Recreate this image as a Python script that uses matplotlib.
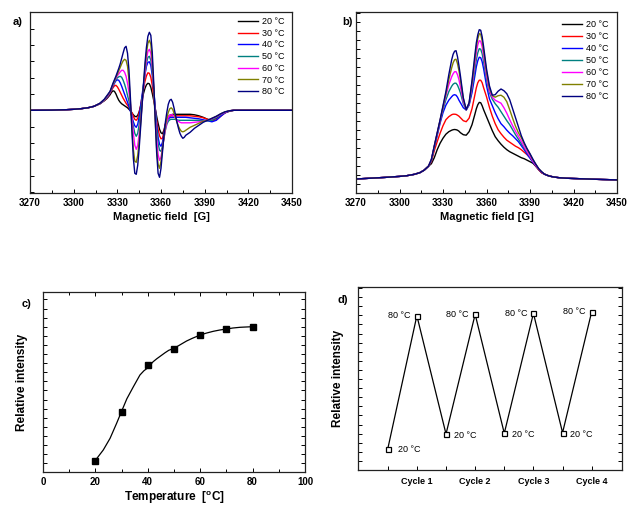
import matplotlib
matplotlib.use('Agg')
import matplotlib.pyplot as plt
from matplotlib.ticker import MultipleLocator, FixedLocator

plt.rcParams['font.family'] = ['Liberation Sans', 'DejaVu Sans']
plt.rcParams['mathtext.fontset'] = 'custom'
plt.rcParams['mathtext.rm'] = 'Liberation Sans'
plt.rcParams['mathtext.bf'] = 'Liberation Sans:bold'

# ---- panel a: ESR derivative spectra (arb. units, 0 = baseline) ----
field_a = [3270, 3285, 3295, 3300, 3305, 3310, 3314, 3318, 3321, 3323,
           3325, 3326, 3327, 3328, 3329, 3330, 3331, 3332, 3333, 3334, 3335, 3336, 3337, 3338,
           3339, 3340, 3341, 3342, 3343, 3344, 3345, 3346, 3347, 3348, 3349, 3350, 3351, 3352,
           3353, 3354, 3355, 3356, 3357, 3358, 3359, 3360, 3361, 3362, 3363, 3364, 3365, 3366,
           3367, 3368, 3369, 3370, 3371, 3372, 3373, 3374, 3375, 3376, 3377,
           3380, 3383, 3386, 3389, 3392, 3395, 3398, 3401, 3404, 3407, 3410, 3420, 3450]

a_20 = [0, 0.2, 0.6, 1, 1.6, 2.6, 4, 6.5, 9.5, 12,
        15.5, 18, 19.5, 19, 16.5, 13, 10, 8, 6.5, 5.5, 4.5, 3.5, 2.5, 1,
        -0.5, -2.5, -4.5, -6, -6.5, -5, -1.5, 4, 10.5, 17, 22, 25.5, 27, 26.5,
        23, 17, 10, 2, -6, -13, -19, -22.5, -23.5, -20, -14, -9, -6.5, -5,
        -4.5, -4, -4, -4, -4, -4, -4, -4, -4, -4, -4,
        -4, -4.5, -5.5, -7, -9, -10, -8, -5, -2.5, -1, 0, 0, 0]
a_30 = [0, 0.2, 0.6, 1, 1.6, 2.6, 4, 6.5, 9.8, 12.5,
        17, 20, 22.5, 24.5, 25, 23.5, 21, 18, 15, 12, 9.5, 7, 5, 3,
        0.5, -2.5, -6, -9, -10, -8, -2.5, 5, 14, 22, 29, 34.5, 37.5, 37,
        33, 25, 14, 2, -10, -19, -25.5, -28.5, -28, -22, -14, -9, -7, -6,
        -5.5, -5.5, -5.5, -5.5, -5.5, -5.5, -5.5, -5.5, -5.5, -5.5, -5.5,
        -5.5, -6, -6.5, -7.5, -9, -10.5, -9.5, -6, -2.5, -0.5, 0, 0, 0]
a_40 = [0, 0.2, 0.6, 1, 1.6, 2.6, 4, 6.6, 10, 13,
        17.5, 21, 24, 27, 29.5, 30.5, 30, 27.5, 24, 20, 16, 12, 8, 4,
        -1, -6, -11.5, -15.5, -17, -14, -6.5, 4, 15, 26, 36, 44, 48, 48.5,
        45, 35, 20, 3, -14, -27, -34, -36, -32, -24, -16, -11, -8.5, -7.5,
        -7, -7, -7, -7, -7, -7, -7, -7, -7, -7, -7,
        -7.5, -8, -8.5, -9.5, -10.5, -11.5, -10, -6, -2.5, -0.5, 0, 0, 0]
a_50 = [0, 0.2, 0.6, 1, 1.6, 2.6, 4, 6.7, 10.2, 13.5,
        18, 21.5, 25, 28, 30.5, 32.5, 33.5, 34, 33, 30, 26, 21, 15, 9,
        2, -7, -16, -23, -26, -23, -14, -2, 11, 24, 37, 47, 53, 54,
        50, 39, 22, 2, -18, -33, -40, -41, -36, -28, -20, -14, -11, -9.5,
        -9, -9, -9, -9, -9.5, -10, -10, -10, -10, -10, -10,
        -10, -10, -10, -10.5, -10.5, -10, -7.5, -4.5, -2, -0.5, 0, 0, 0]
a_60 = [0, 0.2, 0.6, 1, 1.6, 2.6, 4, 6.8, 10.5, 14,
        18, 22, 25.5, 29, 32, 34.5, 36.5, 38.5, 40, 40, 38, 34, 27, 18,
        6, -8, -23, -35, -39, -35, -24, -10, 6, 22, 38, 51, 59, 61,
        57, 44, 22, -4, -28, -44, -50, -47, -38, -28, -19, -12, -7, -5,
        -4.5, -4.5, -6, -8, -10, -11, -12, -12.5, -12.5, -12.5, -12.5,
        -12.5, -12, -11.5, -11, -10, -8.5, -6.5, -4, -2, -0.5, 0, 0, 0]
a_70 = [0, 0.2, 0.6, 1, 1.6, 2.6, 4, 6.9, 10.7, 14.5,
        18.5, 22.5, 26, 29.5, 33, 36, 39.5, 43, 46.5, 49.5, 51, 50, 44, 30,
        8, -18, -39, -51, -52, -45, -31, -13, 6, 25, 43, 57, 67, 70,
        66, 50, 22, -10, -38, -54, -58, -51, -39, -27, -16, -8, -2, 1.5,
        2.5, 1, -3, -8, -12, -16, -19, -21, -21.5, -21, -20,
        -17, -15, -13, -11, -10, -8, -6, -3.5, -1.5, -0.5, 0, 0, 0]
a_80 = [0, 0.2, 0.6, 1, 1.6, 2.6, 4, 7, 11, 15,
        19, 23, 27, 30.5, 34, 38, 42, 46.5, 52, 57.5, 62.5, 64, 57, 40,
        12, -20, -48, -63, -64, -55, -38, -17, 5, 27, 47, 63, 74, 78,
        75, 58, 28, -8, -42, -63, -67, -58, -42, -26, -12, -2, 6, 10,
        11, 8, 2, -5, -12, -18, -23, -26, -28, -27, -25,
        -22, -18, -15, -12, -10, -8, -6, -3.5, -1.5, -0.5, 0, 0, 0]

# ---- panel b: integrated spectra (arb. units) ----
field_b = [3270, 3280, 3290, 3300, 3305, 3310, 3314, 3317, 3320,
           3322, 3324, 3326, 3328, 3330, 3332, 3334, 3336, 3337, 3338, 3339, 3340, 3341, 3342,
           3344, 3346, 3348, 3350, 3352, 3353, 3354, 3355, 3356, 3357, 3358,
           3360, 3362, 3364, 3366, 3368, 3370, 3372, 3374, 3376, 3378, 3380, 3382, 3384,
           3386, 3388, 3390, 3392, 3394, 3396, 3398, 3400,
           3403, 3406, 3410, 3415, 3420, 3430, 3440, 3450]

b_20 = [13.7, 14.5, 15.3, 16.3, 17, 18.3, 20, 22.5, 26.5,
        29, 35, 43, 49.5, 54.5, 58.5, 61, 62.5, 63, 63.2, 63, 62.5, 61.5, 60,
        58, 57.5, 61, 68, 78.5, 84, 88, 90.3, 90, 87, 83,
        76, 69, 62, 56, 52, 48.5, 45.5, 43, 41, 39.5, 38, 36.5, 35,
        34, 32.5, 31, 29.5, 26.5, 23, 20, 18.5,
        16.8, 15.8, 15, 14.5, 14.2, 13.7, 13.2, 12.8]
b_30 = [13.7, 14.5, 15.3, 16.3, 17, 18.3, 20, 22.5, 26.5,
        31, 42, 51, 59.5, 67, 73, 76, 78, 78.5, 78.5, 78.3, 77.5, 76.5, 75,
        72, 71, 74.5, 84, 98, 105, 110, 112.5, 112.5, 110, 105,
        96, 85.5, 76.5, 69, 63, 59, 55.5, 52.5, 50.5, 48.5, 46.5, 45, 43,
        40.5, 38, 35, 31, 26.5, 23, 20, 18.5,
        16.8, 15.8, 15, 14.5, 14.2, 13.7, 13.2, 12.8]
b_40 = [13.7, 14.5, 15.3, 16.3, 17, 18.3, 20, 22.5, 26.5,
        32, 45, 57, 69.5, 80, 87.5, 92.5, 96, 97.5, 98, 97.5, 95.5, 92.5, 90,
        85, 82.7, 87.5, 100, 117, 126, 132, 135.5, 135, 131, 124,
        107, 94, 87, 80, 74, 69, 66, 62.5, 59.5, 57, 54, 51, 47,
        43, 38.5, 34.5, 30.5, 27, 23.5, 20.5, 18.5,
        16.8, 15.8, 15, 14.5, 14.2, 13.7, 13.2, 12.8]
b_50 = [13.7, 14.5, 15.3, 16.3, 17, 18.3, 20, 22.5, 26.5,
        32.5, 46, 58.5, 71.5, 83, 93, 101, 106.5, 108.5, 109.5, 109.5, 107.5, 104, 100,
        89, 83, 88.5, 104, 123, 133, 140, 144, 143.5, 139, 131,
        113, 100, 93.5, 89, 85.5, 81, 76.5, 72, 68, 63, 58, 53.5, 49,
        44.5, 40, 36, 31.5, 27.5, 23.5, 20.5, 18.5,
        16.8, 15.8, 15, 14.5, 14.2, 13.7, 13.2, 12.8]
b_60 = [13.7, 14.5, 15.3, 16.3, 17, 18.3, 20, 22.5, 26.5,
        33, 46.5, 59, 72, 85, 97, 108, 116, 119, 121, 121, 118, 113, 106,
        91, 83, 89, 107, 129, 140, 148, 152, 151.5, 146, 137,
        117, 102, 95.5, 92.5, 91, 89.5, 85, 79.5, 73, 67, 61.5, 56.5, 51.5,
        46, 41, 36.5, 31.5, 27.5, 23.5, 20.5, 18.5,
        16.8, 15.8, 15, 14.5, 14.2, 13.7, 13.2, 12.8]
b_70 = [13.7, 14.5, 15.3, 16.3, 17, 18.3, 20, 22.5, 26.5,
        33, 46.5, 59.5, 72.5, 86, 99, 113, 125, 130, 133, 133.5, 129, 122, 113,
        94, 83, 89.5, 110, 134, 146, 154, 159, 158.5, 152, 142,
        121, 105, 97, 95.5, 97, 97.5, 95.5, 91, 83, 74.5, 66.5, 60, 55,
        49, 43.5, 38.5, 33, 28.5, 24, 21, 18.5,
        16.8, 15.8, 15, 14.5, 14.2, 13.7, 13.2, 12.8]
b_80 = [13.7, 14.5, 15.3, 16.3, 17, 18.3, 20, 22.5, 26.5,
        33.5, 47, 60, 73, 87, 101, 118, 133, 138.5, 141.5, 142, 136, 127, 117,
        95, 83, 90, 112, 138, 150, 158, 163, 162.5, 156, 146,
        124, 107, 97.5, 98, 101.5, 103.7, 102, 99, 93, 84, 75, 66, 57,
        50, 44, 39, 33.5, 28.5, 24, 21, 18.5,
        16.8, 15.8, 15, 14.5, 14.2, 13.7, 13.2, 12.8]

temp_labels = ['20 °C', '30 °C', '40 °C', '50 °C', '60 °C', '70 °C', '80 °C']
line_colors = ['black', '#ff0000', '#0000ff', '#008080', '#ff00ff', '#808000', '#000080']

# ---- panel c: relative intensity vs temperature ----
temp_c = [20, 30, 40, 50, 60, 70, 80]
intensity_c = [11.7, 60.7, 107, 123.7, 137, 143, 145.3]
fit_t = [20, 23, 25.6, 28.1, 30, 32, 34.5, 37, 38.5, 40, 42, 43.4, 46.6, 48, 50, 52,
         54.8, 57, 60, 62.5, 65, 67.5, 70, 72.5, 75.2, 77.5, 80]
fit_v = [12, 22.3, 34, 49, 61, 73.5, 85.6, 97.3, 101.5, 104.5, 110.5, 113.5, 119.6, 122,
         124, 127, 131.3, 134, 137.3, 139.3, 141, 142.3, 143.3, 144.3, 145, 145.3, 145.6]

# ---- panel d: heating / cooling cycles ----
cycle_pos = [1, 2, 3, 4, 5, 6, 7, 8]
cycle_int = [21, 154.3, 36, 155.7, 36.7, 156.7, 37.3, 158.3]
cycle_temp = ['20 °C', '80 °C', '20 °C', '80 °C', '20 °C', '80 °C', '20 °C', '80 °C']
cycle_ticklabels = ['', 'Cycle 1', '', 'Cycle 2', '', 'Cycle 3', '', 'Cycle 4']

W, H = 628, 509
fig = plt.figure(figsize=(W / 100, H / 100), dpi=100)


def px_axes(l, t, r, b):
    return fig.add_axes([l / W, 1 - b / H, (r - l) / W, (b - t) / H])


def style(ax):
    for s in ax.spines.values():
        s.set_linewidth(0.9)
        s.set_color('#222222')
    ax.tick_params(which='both', direction='in', labelsize=7, width=0.7)
    ax.tick_params(which='major', length=3)
    ax.tick_params(which='minor', length=2)
    for lab in ax.get_xticklabels():
        lab.set_fontweight('bold')


def spectra(ax, xs, series, ylim, ystep, title, leg_anchor, spacing):
    for ys, c, lab in zip(series, line_colors, temp_labels):
        ax.plot(xs, ys, color=c, lw=1.0, label=lab)
    ax.set_xlim(3270, 3450)
    ax.set_ylim(*ylim)
    ax.xaxis.set_major_locator(MultipleLocator(30))
    ax.xaxis.set_minor_locator(MultipleLocator(15))
    ax.yaxis.set_major_locator(MultipleLocator(ystep))
    style(ax)
    ax.tick_params(axis='y', labelleft=False)
    ax.set_xlabel(title, fontsize=8, fontweight='bold', labelpad=3)
    ax.legend(loc='upper left', bbox_to_anchor=leg_anchor, frameon=False, fontsize=6.5,
              handlelength=2.2, handletextpad=0.45, labelspacing=spacing,
              borderpad=0, borderaxespad=0)


ax_a = px_axes(30, 12, 292, 193)
spectra(ax_a, field_a, [a_20, a_30, a_40, a_50, a_60, a_70, a_80], (-82.7, 98.3), 16.3,
        'Magnetic field  [G]', (0.794, 0.972), 0.3)

ax_b = px_axes(356, 12, 617, 192.7)
spectra(ax_b, field_b, [b_20, b_30, b_40, b_50, b_60, b_70, b_80], (0, 180.7), 9,
        'Magnetic field [G]', (0.788, 0.953), 0.33)

# panel c
ax_c = px_axes(43, 292, 305, 472.3)
ax_c.plot(fit_t, fit_v, color='black', lw=0.9)
ax_c.plot(temp_c, intensity_c, ls='none', marker='s', color='black', markersize=3.8)
ax_c.set_xlim(0, 100)
ax_c.set_ylim(0, 180.3)
ax_c.xaxis.set_major_locator(MultipleLocator(20))
ax_c.xaxis.set_minor_locator(MultipleLocator(10))
ax_c.yaxis.set_major_locator(MultipleLocator(9.1))
style(ax_c)
ax_c.tick_params(which='both', top=True, right=True, labelleft=False)
ax_c.set_xlabel(r'Temperature  [$^{\mathbf{o}}$C]', fontsize=8.5, fontweight='bold', labelpad=1.5)
ax_c.set_ylabel('Relative intensity', fontsize=8.5, fontweight='bold', labelpad=11)

# panel d
ax_d = px_axes(358.3, 286.7, 622.3, 470)
ax_d.plot(cycle_pos, cycle_int, color='black', lw=0.9, marker='s', markersize=3.6,
          markerfacecolor='white', markeredgecolor='black', markeredgewidth=0.9)
for x, y, t in zip(cycle_pos, cycle_int, cycle_temp):
    if t.startswith('80'):
        ax_d.annotate(t, (x, y), xytext=(-4.5, 0), textcoords='offset points',
                      ha='right', va='center', fontsize=6.5)
    else:
        dx = 7.5 if x == 1 else 5.5
        dy = 0 if x == 1 else -1
        ax_d.annotate(t, (x, y), xytext=(dx, dy), textcoords='offset points',
                      ha='left', va='center', fontsize=6.5)
ax_d.set_xlim(-0.01, 9.05)
ax_d.set_ylim(0, 183.3)
ax_d.xaxis.set_major_locator(FixedLocator(cycle_pos))
ax_d.set_xticklabels(cycle_ticklabels)
ax_d.yaxis.set_major_locator(MultipleLocator(9.1))
style(ax_d)
ax_d.tick_params(which='both', right=True, labelleft=False, labelsize=6.5, pad=5)
ax_d.set_ylabel('Relative intensity', fontsize=8.5, fontweight='bold', labelpad=10.5)

for txt, x, y in [('a)', 13, 22), ('b)', 342, 22), ('c)', 22, 304), ('d)', 337, 300)]:
    fig.text(x / W, 1 - y / H, txt, fontsize=8, fontweight='bold', va='center', ha='left')

fig.savefig('out.png', dpi=100)
